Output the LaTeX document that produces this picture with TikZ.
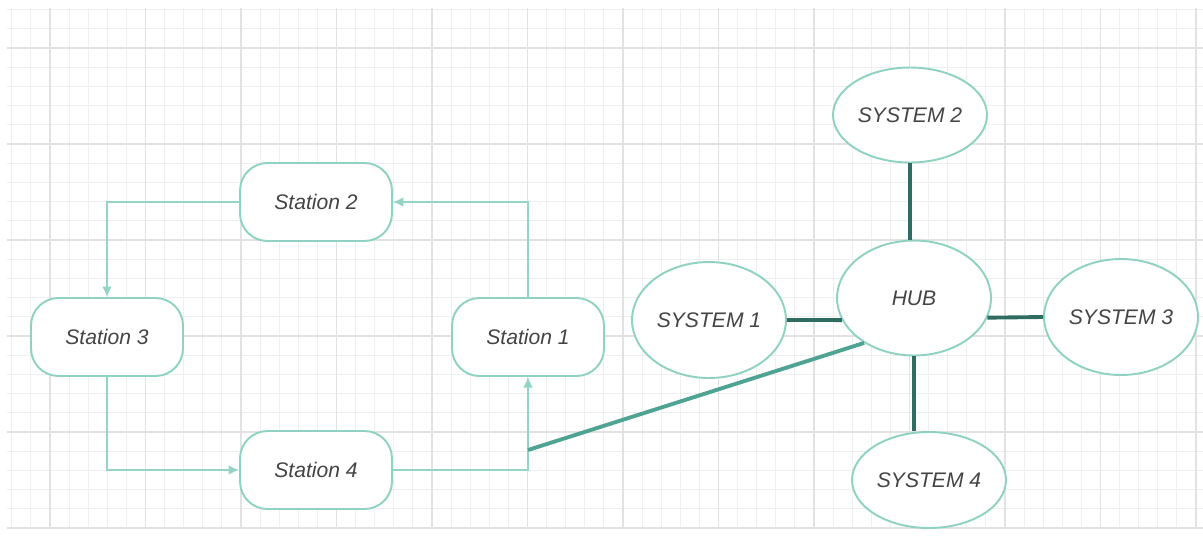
\documentclass[tikz,border=0pt]{standalone}
\usepackage{fontspec}
\setmainfont{Liberation Sans}
\usetikzlibrary{shapes.geometric,arrows.meta}
\definecolor{gridminor}{HTML}{EFEFEF}
\definecolor{gridmajor}{HTML}{E2E2E2}
\definecolor{tealedge}{HTML}{8FD2C2}
\definecolor{tealarrow}{HTML}{94D4C6}
\definecolor{tealmid}{HTML}{4FA392}
\definecolor{tealdark}{HTML}{2F6C61}
\definecolor{labelgray}{HTML}{444444}
\begin{document}
\begin{tikzpicture}[x=0.02cm, y=-0.02cm,
		font=\fontsize{12}{14}\selectfont\itshape, text=labelgray,
		minorline/.style={gridminor, line width=0.6pt},
		majorline/.style={gridmajor, line width=0.8pt},
		station/.style={draw=tealedge, fill=white, line width=1.1pt, rounded corners=0.55cm,
			minimum width=3.04cm, minimum height=1.56cm},
		sysnode/.style={ellipse, draw=tealedge, fill=white, line width=1.1pt,
			minimum width=3.08cm, inner sep=0pt},
		flow/.style={tealarrow, line width=0.9pt, -{Latex[length=6pt,width=5.5pt]}},
		link/.style={tealdark, line width=2.2pt},
		uplink/.style={tealmid, line width=2.2pt}]
	\useasboundingbox (0,0) rectangle (1203,542);
	\fill[white] (0,0) rectangle (1203,542);
	% grid
	\foreach \i in {-2,...,60}
		\draw[minorline] ({50+19.1*\i},8) -- ({50+19.1*\i},528);
	\foreach \j in {-2,...,25}
		\draw[minorline] (7,{48+19.2*\j}) -- (1203,{48+19.2*\j});
	\foreach \i in {0,...,12}
		\draw[majorline] ({50+95.5*\i},8) -- ({50+95.5*\i},528);
	\foreach \j in {0,...,5}
		\draw[majorline] (7,{48+96*\j}) -- (1203,{48+96*\j});
	% stations
	\node[station] (s2) at (316,202) {Station 2};
	\node[station] (s3) at (107,337) {Station 3};
	\node[station] (s1) at (528,337) {Station 1};
	\node[station] (s4) at (316,470) {Station 4};
	\draw[flow] (s1.north) |- (s2.east);
	\draw[flow] (s2.west) -| (s3.north);
	\draw[flow] (s3.south) |- (s4.west);
	\draw[flow] (s4.east) -| (s1.south);
	% systems
	\node[sysnode, minimum height=1.9cm] (sys2) at (910,115) {SYSTEM 2};
	\node[sysnode, minimum height=2.3cm] (hub) at (914,298) {HUB};
	\node[sysnode, minimum height=2.32cm] (sys1) at (709,320) {SYSTEM 1};
	\node[sysnode, minimum height=2.32cm] (sys3) at (1121,317) {SYSTEM 3};
	\node[sysnode, minimum height=1.92cm] (sys4) at (929,480) {SYSTEM 4};
	\coordinate (tap) at (528,450);
	\draw[link] (sys2.south) -- (sys2.south |- hub.north);
	\draw[link] (sys1.east) -- (hub.197);
	\draw[link] (hub.345) -- (sys3.west);
	\draw[link] (hub.south) -- (hub.south |- sys4.north);
	\draw[uplink] (tap) -- (hub.222);
\end{tikzpicture}
\end{document}
